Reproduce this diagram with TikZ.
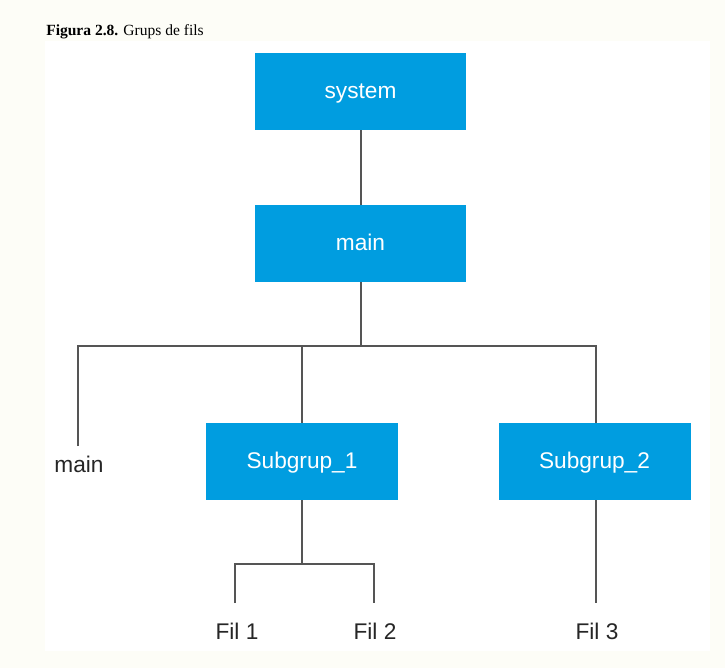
\documentclass[tikz,border=0pt]{standalone}
\usepackage{fontspec}
\setmainfont{Liberation Serif}
\newfontfamily\boxfont{Liberation Sans}
\definecolor{cream}{HTML}{FDFDF7}
\definecolor{boxblue}{HTML}{009DE0}
\definecolor{linegrey}{HTML}{555555}
\begin{document}
\begin{tikzpicture}[x=0.75pt,y=-0.75pt,
  bluebox/.style={fill=boxblue,draw=none,minimum width=211*0.75pt,minimum height=77*0.75pt,inner sep=0pt,text height=10.5pt,text depth=0pt,text=white,font=\boxfont\fontsize{17pt}{20pt}\selectfont},
  subbox/.style={bluebox,minimum width=192*0.75pt},
  leaf/.style={inner sep=0pt,text=black!85,font=\boxfont\fontsize{17pt}{20pt}\selectfont},
  conn/.style={draw=linegrey,line width=1.5pt}]
\useasboundingbox (0,0) rectangle (725,668);
\fill[cream] (0,0) rectangle (725,668);
\fill[white] (45,41) rectangle (710,651);
\node[anchor=base west,inner sep=0pt,font=\fontsize{11.65pt}{13pt}\selectfont] (cap) at (46,35) {\textbf{Figura 2.8.} Grups de fils};
\node[bluebox] (system) at (360.5,91.5) {system};
\node[bluebox] (main) at (360.5,243.5) {main};
\node[subbox] (s1) at (302,461.5) {Subgrup\_1};
\node[subbox] (s2) at (594.5,461.5) {Subgrup\_2};
\node[leaf] (m2) at (79,464) {main};
\node[leaf] (f1) at (237,631) {Fil 1};
\node[leaf] (f2) at (375,631) {Fil 2};
\node[leaf] (f3) at (597,631) {Fil 3};
\coordinate (j1) at (360.5,346);
\coordinate (j2) at (302,564);
\draw[conn] (system.south) -- (main.north);
\draw[conn] (main.south) -- (j1);
\draw[conn] (78,446) -- (78,346) -- (596,346) -- (596,423);
\draw[conn] (302,346) -- (302,423);
\draw[conn] (s1.south) -- (j2);
\draw[conn] (235,603) -- (235,564) -- (374,564) -- (374,603);
\draw[conn] (596,500) -- (596,603);
\end{tikzpicture}
\end{document}
